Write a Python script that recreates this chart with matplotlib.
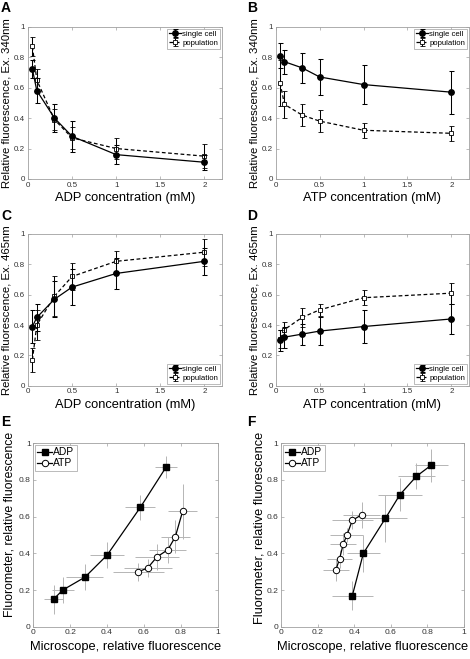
import matplotlib
matplotlib.use("Agg")
import matplotlib.pyplot as plt
import numpy as np

plt.rcParams['font.family'] = ['Liberation Sans', 'DejaVu Sans']

# ---------------- data ----------------
conc = [0.05, 0.1, 0.3, 0.5, 1, 2]

# A: ADP, Ex. 340nm
adp340_cell = [0.72, 0.58, 0.40, 0.28, 0.16, 0.11]
adp340_cell_err = [0.06, 0.08, 0.09, 0.10, 0.06, 0.05]
adp340_pop = [0.87, 0.65, 0.39, 0.27, 0.20, 0.15]
adp340_pop_err = [0.06, 0.07, 0.07, 0.07, 0.07, 0.08]

# B: ATP, Ex. 340nm
atp340_cell = [0.81, 0.77, 0.73, 0.67, 0.62, 0.57]
atp340_cell_err = [0.08, 0.08, 0.10, 0.12, 0.13, 0.14]
atp340_pop = [0.63, 0.49, 0.42, 0.38, 0.32, 0.30]
atp340_pop_err = [0.15, 0.09, 0.07, 0.07, 0.05, 0.05]

# C: ADP, Ex. 465nm
adp465_cell = [0.39, 0.45, 0.57, 0.65, 0.74, 0.82]
adp465_cell_err = [0.11, 0.09, 0.12, 0.12, 0.10, 0.09]
adp465_pop = [0.17, 0.40, 0.59, 0.72, 0.82, 0.88]
adp465_pop_err = [0.08, 0.10, 0.13, 0.09, 0.07, 0.09]

# D: ATP, Ex. 465nm
atp465_cell = [0.30, 0.32, 0.34, 0.36, 0.39, 0.44]
atp465_cell_err = [0.07, 0.07, 0.07, 0.09, 0.11, 0.10]
atp465_pop = [0.31, 0.37, 0.45, 0.50, 0.58, 0.61]
atp465_pop_err = [0.06, 0.05, 0.06, 0.04, 0.05, 0.07]

panel_letters = ['A', 'B', 'C', 'D', 'E', 'F']
conc_ticks = [0, 0.5, 1, 1.5, 2]
conc_ticklabels = ['0', '0.5', '1', '1.5', '2']
frac_ticks = [0, 0.2, 0.4, 0.6, 0.8, 1]
frac_ticklabels = ['0', '0.2', '0.4', '0.6', '0.8', '1']

# ---------------- layout ----------------
W, H = 470, 659
fig = plt.figure(figsize=(W / 100, H / 100), dpi=100)

def px_axes(l, t, r, b):
    return fig.add_axes([l / W, 1 - b / H, (r - l) / W, (b - t) / H])

axA = px_axes(28, 26.7, 222, 179)
axB = px_axes(275.7, 26.7, 469, 179)
axC = px_axes(28, 234, 222, 385.7)
axD = px_axes(275.7, 234, 469, 385.7)
axE = px_axes(33.3, 443.3, 217.7, 626.7)
axF = px_axes(281, 443.3, 464, 626.7)

SPINE = '#a0a0a0'
TICKC = '#333333'

def style(ax, fs, pad=2):
    for s in ax.spines.values():
        s.set_color(SPINE)
        s.set_linewidth(0.6)
    ax.tick_params(direction='in', length=2.5, width=0.5, color=SPINE,
                   top=True, right=True, labelsize=fs, labelcolor=TICKC, pad=pad)

def conc_panel(ax, cell, cell_err, pop, pop_err, xlabel, ylabel, legloc):
    ax.errorbar(conc, cell, yerr=cell_err, color='black', lw=0.9, elinewidth=0.75,
                capsize=1.8, capthick=0.75, marker='o', ms=3.9, mfc='black',
                mec='black', label='single cell', zorder=3)
    ax.errorbar(conc, pop, yerr=pop_err, color='black', lw=0.9, elinewidth=0.75,
                capsize=1.8, capthick=0.75, marker='s', ms=3.3, mfc='white',
                mec='black', mew=0.6, ls=(0, (3, 2)), label='population', zorder=2)
    ax.set_xlim(0, 2.2)
    ax.set_ylim(0, 1)
    ax.set_xticks(conc_ticks)
    ax.set_xticklabels(conc_ticklabels)
    ax.set_yticks(frac_ticks)
    ax.set_yticklabels(frac_ticklabels)
    style(ax, 5.8)
    ax.set_xlabel(xlabel, fontsize=9.3)
    ax.set_ylabel(ylabel, fontsize=8.2)
    ax.xaxis.set_label_coords(0.5, -0.085)
    ax.yaxis.set_label_coords(-0.085, 0.5)
    leg = ax.legend(loc=legloc, fontsize=5.6, handlelength=1.6, handletextpad=0.1,
                    borderpad=0.25, labelspacing=0.15, borderaxespad=0.25,
                    fancybox=False, framealpha=1)
    leg.get_frame().set_edgecolor(SPINE)
    leg.get_frame().set_linewidth(0.5)

conc_panel(axA, adp340_cell, adp340_cell_err, adp340_pop, adp340_pop_err,
           'ADP concentration (mM)', 'Relative fluorescence, Ex. 340nm', 'upper right')
conc_panel(axB, atp340_cell, atp340_cell_err, atp340_pop, atp340_pop_err,
           'ATP concentration (mM)', 'Relative fluorescence, Ex. 340nm', 'upper right')
conc_panel(axC, adp465_cell, adp465_cell_err, adp465_pop, adp465_pop_err,
           'ADP concentration (mM)', 'Relative fluorescence, Ex. 465nm', 'lower right')
conc_panel(axD, atp465_cell, atp465_cell_err, atp465_pop, atp465_pop_err,
           'ATP concentration (mM)', 'Relative fluorescence, Ex. 465nm', 'lower right')

ERRC = '#b5b5b5'

def corr_panel(ax, adp_x, adp_xe, adp_y, adp_ye, atp_x, atp_xe, atp_y, atp_ye,
               ylab_fs, ylab_xy):
    ax.errorbar(adp_x, adp_y, xerr=adp_xe, yerr=adp_ye, fmt='none', ecolor=ERRC,
                elinewidth=0.7, capsize=0, zorder=1)
    ax.errorbar(atp_x, atp_y, xerr=atp_xe, yerr=atp_ye, fmt='none', ecolor=ERRC,
                elinewidth=0.7, capsize=0, zorder=1)
    ax.plot(adp_x, adp_y, color='black', lw=0.9, marker='s', ms=4.2, mfc='black',
            mec='black', label='ADP', zorder=3)
    ax.plot(atp_x, atp_y, color='black', lw=0.9, marker='o', ms=4.6, mfc='white',
            mec='black', mew=0.7, label='ATP', zorder=3)
    ax.set_xlim(0, 1)
    ax.set_ylim(0, 1)
    ax.set_xticks(frac_ticks)
    ax.set_xticklabels(frac_ticklabels)
    ax.set_yticks(frac_ticks)
    ax.set_yticklabels(frac_ticklabels)
    style(ax, 6.1, pad=1.8)
    ax.set_xlabel('Microscope, relative fluorescence', fontsize=9.3)
    ax.set_ylabel('Fluorometer, relative fluorescence', fontsize=ylab_fs)
    ax.xaxis.set_label_coords(0.5, -0.078)
    ax.yaxis.set_label_coords(*ylab_xy)
    leg = ax.legend(loc='upper left', fontsize=7.4, handlelength=1.4, handletextpad=0.15,
                    borderpad=0.25, labelspacing=0.1, borderaxespad=0.15,
                    fancybox=False, framealpha=1)
    leg.get_frame().set_edgecolor(SPINE)
    leg.get_frame().set_linewidth(0.5)

corr_panel(axE, adp340_cell, adp340_cell_err, adp340_pop, adp340_pop_err,
           atp340_cell, atp340_cell_err, atp340_pop, atp340_pop_err,
           8.8, (-0.098, 0.56))
corr_panel(axF, adp465_cell, adp465_cell_err, adp465_pop, adp465_pop_err,
           atp465_cell, atp465_cell_err, atp465_pop, atp465_pop_err,
           9.2, (-0.082, 0.54))

# panel letters
letter_pos = [(1, 12.5), (247, 12.5), (1, 220), (247, 220), (1, 425.5), (247, 425.5)]
for lab, (x, y) in zip(panel_letters, letter_pos):
    fig.text(x / W, 1 - y / H, lab, fontsize=10, fontweight='bold', ha='left', va='baseline')

fig.savefig('out.png', dpi=100)
